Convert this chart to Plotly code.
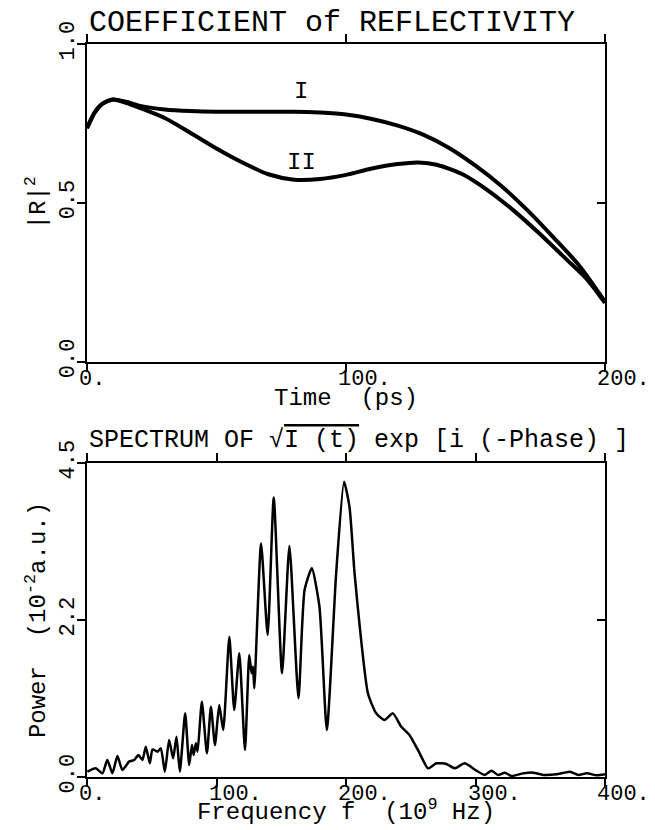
import plotly.graph_objects as go

# ---------------- data ----------------
time_ps = [0, 3, 6, 10, 15, 20, 30, 40, 50, 60, 70, 80, 90, 100, 110, 120, 130,
           140, 150, 160, 170, 180, 190, 200]
refl_I = [0.735, 0.785, 0.812, 0.825, 0.818, 0.806, 0.794, 0.789, 0.787, 0.787,
          0.787, 0.787, 0.784, 0.778, 0.764, 0.743, 0.714, 0.672, 0.617, 0.553,
          0.477, 0.392, 0.303, 0.189]

time_II = [0, 3, 6, 10, 15, 20, 30, 40, 50, 60, 70, 80, 90, 100, 110, 120, 128,
           135, 145, 155, 165, 175, 185, 193, 200]
refl_II = [0.735, 0.785, 0.812, 0.825, 0.815, 0.800, 0.767, 0.720, 0.671, 0.627,
           0.590, 0.573, 0.575, 0.588, 0.608, 0.622, 0.627, 0.620, 0.590, 0.538,
           0.474, 0.401, 0.323, 0.260, 0.185]

freq = [0.3, 6.7, 11.9, 15.7, 19.6, 23.5, 27.3, 32.5, 36.4, 39.7, 42.8, 45.4,
        48.5, 50.6, 54.4, 57.0, 60.1, 63.4, 66.5, 69.1, 71.7, 75.8, 78.9, 81.0,
        82.3, 84.1, 85.4, 88.7, 92.6, 95.7, 98.8, 102.1, 105.2, 109.9, 113.7,
        117.6, 122.0, 125.3, 127.1, 128.2, 129.2, 134.4, 139.5, 144.2, 150.6,
        156.3, 163.3, 168.0, 173.6, 179.5, 185.2, 192.4, 198.5, 202.7, 206.6,
        211.7, 216.9, 223.3, 229.8, 236.2, 242.7, 249.1, 256.9, 263.3, 269.8,
        277.5, 284.0, 291.7, 300.7, 307.2, 312.3, 317.5, 322.6, 327.8, 336.8,
        344.6, 352.3, 362.6, 372.9, 379.4, 385.8, 393.6, 400]
power = [0.076, 0.124, 0.053, 0.244, 0.053, 0.301, 0.100, 0.220, 0.244, 0.315,
         0.244, 0.435, 0.196, 0.396, 0.363, 0.411, 0.076, 0.530, 0.268, 0.578,
         0.076, 0.912, 0.172, 0.458, 0.315, 0.482, 0.363, 1.079, 0.339, 1.007,
         0.458, 1.031, 0.673, 2.01, 0.960, 1.772, 0.387, 1.748, 1.486, 1.58,
         1.271, 3.348, 2.034, 4.006, 1.486, 3.31, 1.127, 2.68, 2.99, 2.44,
         0.673, 2.92, 4.23, 3.87, 2.92, 1.96, 1.2, 0.912, 0.817, 0.912, 0.72,
         0.60, 0.34, 0.124, 0.196, 0.186, 0.124, 0.196, 0.091, 0.029, 0.091,
         0.029, 0.062, 0.014, 0.052, 0.062, 0.029, 0.038, 0.076, 0.029, 0.052,
         0.024, 0.038]

top_x_ticks = [0, 100, 200]
top_x_ticktext = ["0.", "100.", "200."]
top_y_ticks = [0, 0.5, 1.0]
top_y_ticktext = ["0.0", "0.5", "1.0"]

bot_x_ticks = [0, 100, 200, 300, 400]
bot_x_ticktext = ["0.", "100.", "200.", "300.", "400."]
bot_y_ticks = [0, 2.25, 4.5]
bot_y_ticktext = ["0.0", "2.2", "4.5"]

curve_labels = ["I", "II"]
curve_label_x = [82.7, 82.7]
curve_label_y = [0.85, 0.626]

# ---------------- figure ----------------
FONT = "Liberation Mono"
OFF = 8                      # page body margin
W, H = 655 - OFF, 830 - OFF


def px(xp):
    return (xp - OFF) / W


def py(yp):
    return 1 - (yp - OFF) / H


xdom = [px(87), px(605)]
top_dom = [py(361.7), py(44)]
bot_dom = [py(777), py(463)]

fig = go.Figure()

fig.add_trace(go.Scatter(x=time_ps, y=refl_I, mode="lines",
                         line=dict(color="black", width=4, shape="spline", smoothing=0.7),
                         xaxis="x", yaxis="y", showlegend=False))
fig.add_trace(go.Scatter(x=time_II, y=refl_II, mode="lines",
                         line=dict(color="black", width=4, shape="spline", smoothing=0.7),
                         xaxis="x", yaxis="y", showlegend=False))
fig.add_trace(go.Scatter(x=freq, y=power, mode="lines",
                         line=dict(color="black", width=2.5, shape="spline", smoothing=0.55),
                         xaxis="x2", yaxis="y2", showlegend=False))
# carriers for the right-hand (inside) tick axes
fig.add_trace(go.Scatter(x=[None], y=[None], xaxis="x", yaxis="y3", showlegend=False, hoverinfo="skip"))
fig.add_trace(go.Scatter(x=[None], y=[None], xaxis="x2", yaxis="y4", showlegend=False, hoverinfo="skip"))

axis_common = dict(showline=True, linecolor="black", linewidth=2, showgrid=False, zeroline=False,
                   ticks="outside", ticklen=8, tickwidth=2, tickcolor="black", automargin=False)
tickfont = dict(family=FONT, size=22, color="black")
titlefont = dict(family=FONT, size=24, color="black")
right_axis = dict(ticks="inside", ticklen=8, tickwidth=2, tickcolor="black", showticklabels=False,
                  showline=False, showgrid=False, zeroline=False, automargin=False)

fig.update_layout(
    width=W, height=H, margin=dict(l=0, r=0, t=0, b=0),
    paper_bgcolor="white", plot_bgcolor="white",
    xaxis=dict(domain=xdom, range=[0, 200], anchor="y", mirror="ticks", tickvals=top_x_ticks,
               showticklabels=False,
               title=dict(text="Time\u00a0\u00a0(ps)", font=titlefont, standoff=17), **axis_common),
    yaxis=dict(domain=top_dom, range=[0, 1], anchor="x", mirror=True, tickvals=top_y_ticks,
               ticktext=top_y_ticktext, tickangle=-90, tickfont=tickfont, ticklabelstandoff=-6,
               title=dict(text="|R|<sup>2</sup>", font=titlefont, standoff=4), **axis_common),
    yaxis3=dict(overlaying="y", side="right", anchor="x", range=[0, 1], tickvals=[0.5], **right_axis),
    xaxis2=dict(domain=xdom, range=[0, 400], anchor="y2", mirror="ticks", tickvals=bot_x_ticks,
                showticklabels=False,
                title=dict(text="Frequency f\u00a0\u00a0(10<sup>9</sup>\u00a0Hz)", font=titlefont, standoff=16),
                **axis_common),
    yaxis2=dict(domain=bot_dom, range=[0, 4.5], anchor="x2", mirror=True, tickvals=bot_y_ticks,
                ticktext=bot_y_ticktext, tickangle=-90, tickfont=tickfont, ticklabelstandoff=-6,
                title=dict(text="Power\u00a0\u00a0(10<sup>-2</sup>a.u.)", font=titlefont, standoff=4),
                **axis_common),
    yaxis4=dict(overlaying="y2", side="right", anchor="x2", range=[0, 4.5], tickvals=[2.25], **right_axis),
)

ann = []
for v, t in zip(top_x_ticks, top_x_ticktext):
    ann.append(dict(x=v, y=0, xref="x", yref="y domain", text=t, showarrow=False,
                    xanchor="left", yanchor="top", xshift=-10, yshift=-3, font=tickfont))
for v, t in zip(bot_x_ticks, bot_x_ticktext):
    ann.append(dict(x=v, y=0, xref="x2", yref="y2 domain", text=t, showarrow=False,
                    xanchor="left", yanchor="top", xshift=-10, yshift=-3, font=tickfont))
for t, xv, yv in zip(curve_labels, curve_label_x, curve_label_y):
    ann.append(dict(x=xv, y=yv, xref="x", yref="y", text=t, showarrow=False,
                    xanchor="center", yanchor="middle", font=dict(family=FONT, size=24, color="black")))

ann.append(dict(x=px(87), y=py(23), xref="paper", yref="paper", xanchor="left", yanchor="middle",
                text="COEFFICIENT of REFLECTIVITY", showarrow=False,
                font=dict(family=FONT, size=30, color="black")))
ann.append(dict(x=px(87), y=py(440), xref="paper", yref="paper", xanchor="left", yanchor="middle",
                text="SPECTRUM OF \u221a<span style='text-decoration:overline'>I\u00a0(t)</span> exp\u00a0[i\u00a0(-Phase)\u00a0]",
                showarrow=False, font=dict(family=FONT, size=25, color="black")))

fig.update_layout(annotations=ann)

fig.write_html("out.html")
